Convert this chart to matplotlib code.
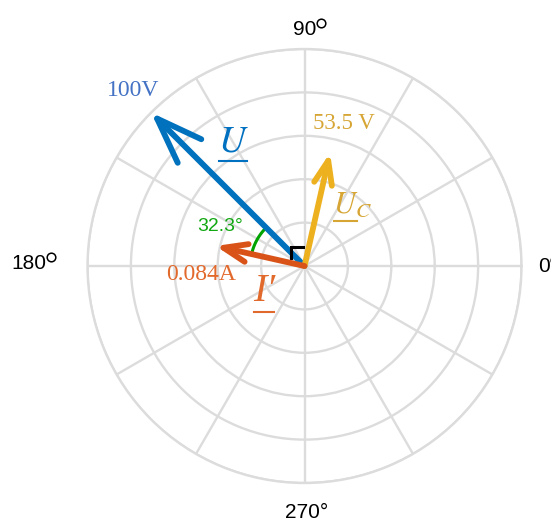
import numpy as np
import matplotlib.pyplot as plt
from matplotlib.lines import Line2D

# phasor data (angles in degrees, lengths on a 0..100 radial scale)
names = ["U", "U_C", "I'"]
angles_deg = [135.0, 77.3, 167.3]
values = [100.0, 53.5, 0.084]
scale = [1.0, 1.0, 500.0]          # current drawn at 500x so it is visible
colors = ["#0072BD", "#EDB120", "#D95319"]
head_len = [3.3, 1.7, 1.7]         # arrow head size, in units of 10 pt
head_wid = [1.2, 0.65, 0.65]
z_order = [3, 5, 6]

phi_deg = 32.3                     # angle between U and I'
r_ticks = [20, 40, 60, 80, 100]
theta_ticks = np.arange(0, 360, 30)

plt.rcParams['mathtext.fontset'] = 'stix'

fig = plt.figure(figsize=(5.51, 5.22), dpi=100)
ax = fig.add_axes([0.1588, 0.0747, 0.7877, 0.8314], projection='polar')

grid_col = "#DCDCDC"
ax.set_rlim(0, 100)
ax.set_rticks(r_ticks)
ax.set_yticklabels([])
ax.set_xticks(np.radians(theta_ticks))
ax.set_xticklabels([])
ax.grid(True, color=grid_col, lw=1.7)
ax.spines['polar'].set_color(grid_col)
ax.spines['polar'].set_linewidth(1.7)
ax.tick_params(length=0)

# angle labels on the outside (degree ring drawn separately, matlab style)
lab_font = dict(family="Liberation Sans", fontsize=15, color="black")
deg_labels = []
deg_labels.append(ax.text(np.radians(90), 108.8, "90", ha='center', va='center', **lab_font))
deg_labels.append(ax.text(np.radians(179.4), 127, "180", ha='center', va='center', **lab_font))
deg_labels.append(ax.text(0, 107.8, "0", ha='left', va='center', clip_on=False, **lab_font))
ax.text(np.radians(270.5), 113.4, "270°", ha='center', va='center', **lab_font)

# angle arc between U and I'
arc_t = np.radians(np.linspace(angles_deg[0], angles_deg[0] + phi_deg, 40))
ax.plot(arc_t, np.full_like(arc_t, 25), color="#00A300", lw=2.2)

# right angle marker between I' and U_C
mk = np.array([-6.0 + 3.7j, -6.0 + 8.8j, -0.5 + 8.8j])
ax.plot(np.angle(mk), np.abs(mk), color="black", lw=2.2,
        solid_joinstyle='miter', zorder=4)

# phasors
for a, v, k, c, hl, hw, z in zip(angles_deg, values, scale, colors, head_len, head_wid, z_order):
    ax.annotate("", xy=(np.radians(a), v * k), xytext=(0, 0), zorder=z,
                arrowprops=dict(arrowstyle="->,head_length=%g,head_width=%g" % (hl, hw),
                                lw=4.2, color=c, shrinkA=0, shrinkB=0,
                                mutation_scale=10))

# value labels
ax.text(np.radians(134.3), 112.8, "%gV" % values[0], color="#4472C4",
        family="Liberation Serif", fontsize=17, ha='center', va='center')
ax.text(np.radians(74.7), 68.3, "%g V" % values[1], color="#D6A534",
        family="Liberation Serif", fontsize=16.5, ha='center', va='center')
ax.text(np.radians(184.4), 48, "%gA" % values[2], color="#E2692C",
        family="Liberation Serif", fontsize=17, ha='center', va='center')
ax.text(np.radians(155.1), 42.7, "%g°" % phi_deg, color="#12A812",
        family="Liberation Sans", fontsize=14, ha='center', va='center')

# phasor names (underlined = complex quantity)
t_u = ax.text(np.radians(119.8), 66.3, r"$U$", color="#0070C0",
              fontsize=27, ha='center', va='center')
t_uc = ax.text(np.radians(51.8), 35.8, r"$U_C$", color="#D6A534",
               fontsize=22, ha='center', va='center')
t_i = ax.text(np.radians(212), 22, "I′", color="#E2692C", style='italic',
              family=["Liberation Serif", "DejaVu Serif"],
              fontsize=29, ha='center', va='center')

fig.canvas.draw()
rend = fig.canvas.get_renderer()
for t, frac in [(t_u, 1.0), (t_uc, 0.62), (t_i, 1.0)]:
    bb = t.get_window_extent(rend)
    y = bb.y0 - 2
    x0, x1 = bb.x0 + 1, bb.x0 + (bb.width - 1) * frac
    fig.add_artist(Line2D([x0, x1], [y, y], transform=None,
                          color=t.get_color(), lw=1.5))
for t in deg_labels:
    bb = t.get_window_extent(rend)
    fig.add_artist(Line2D([bb.x1 + 5], [bb.y1 - 3], transform=None, marker='o',
                          ms=6.2, mfc='none', mec='black', mew=1.1))

fig.savefig("out.png", dpi=100)
